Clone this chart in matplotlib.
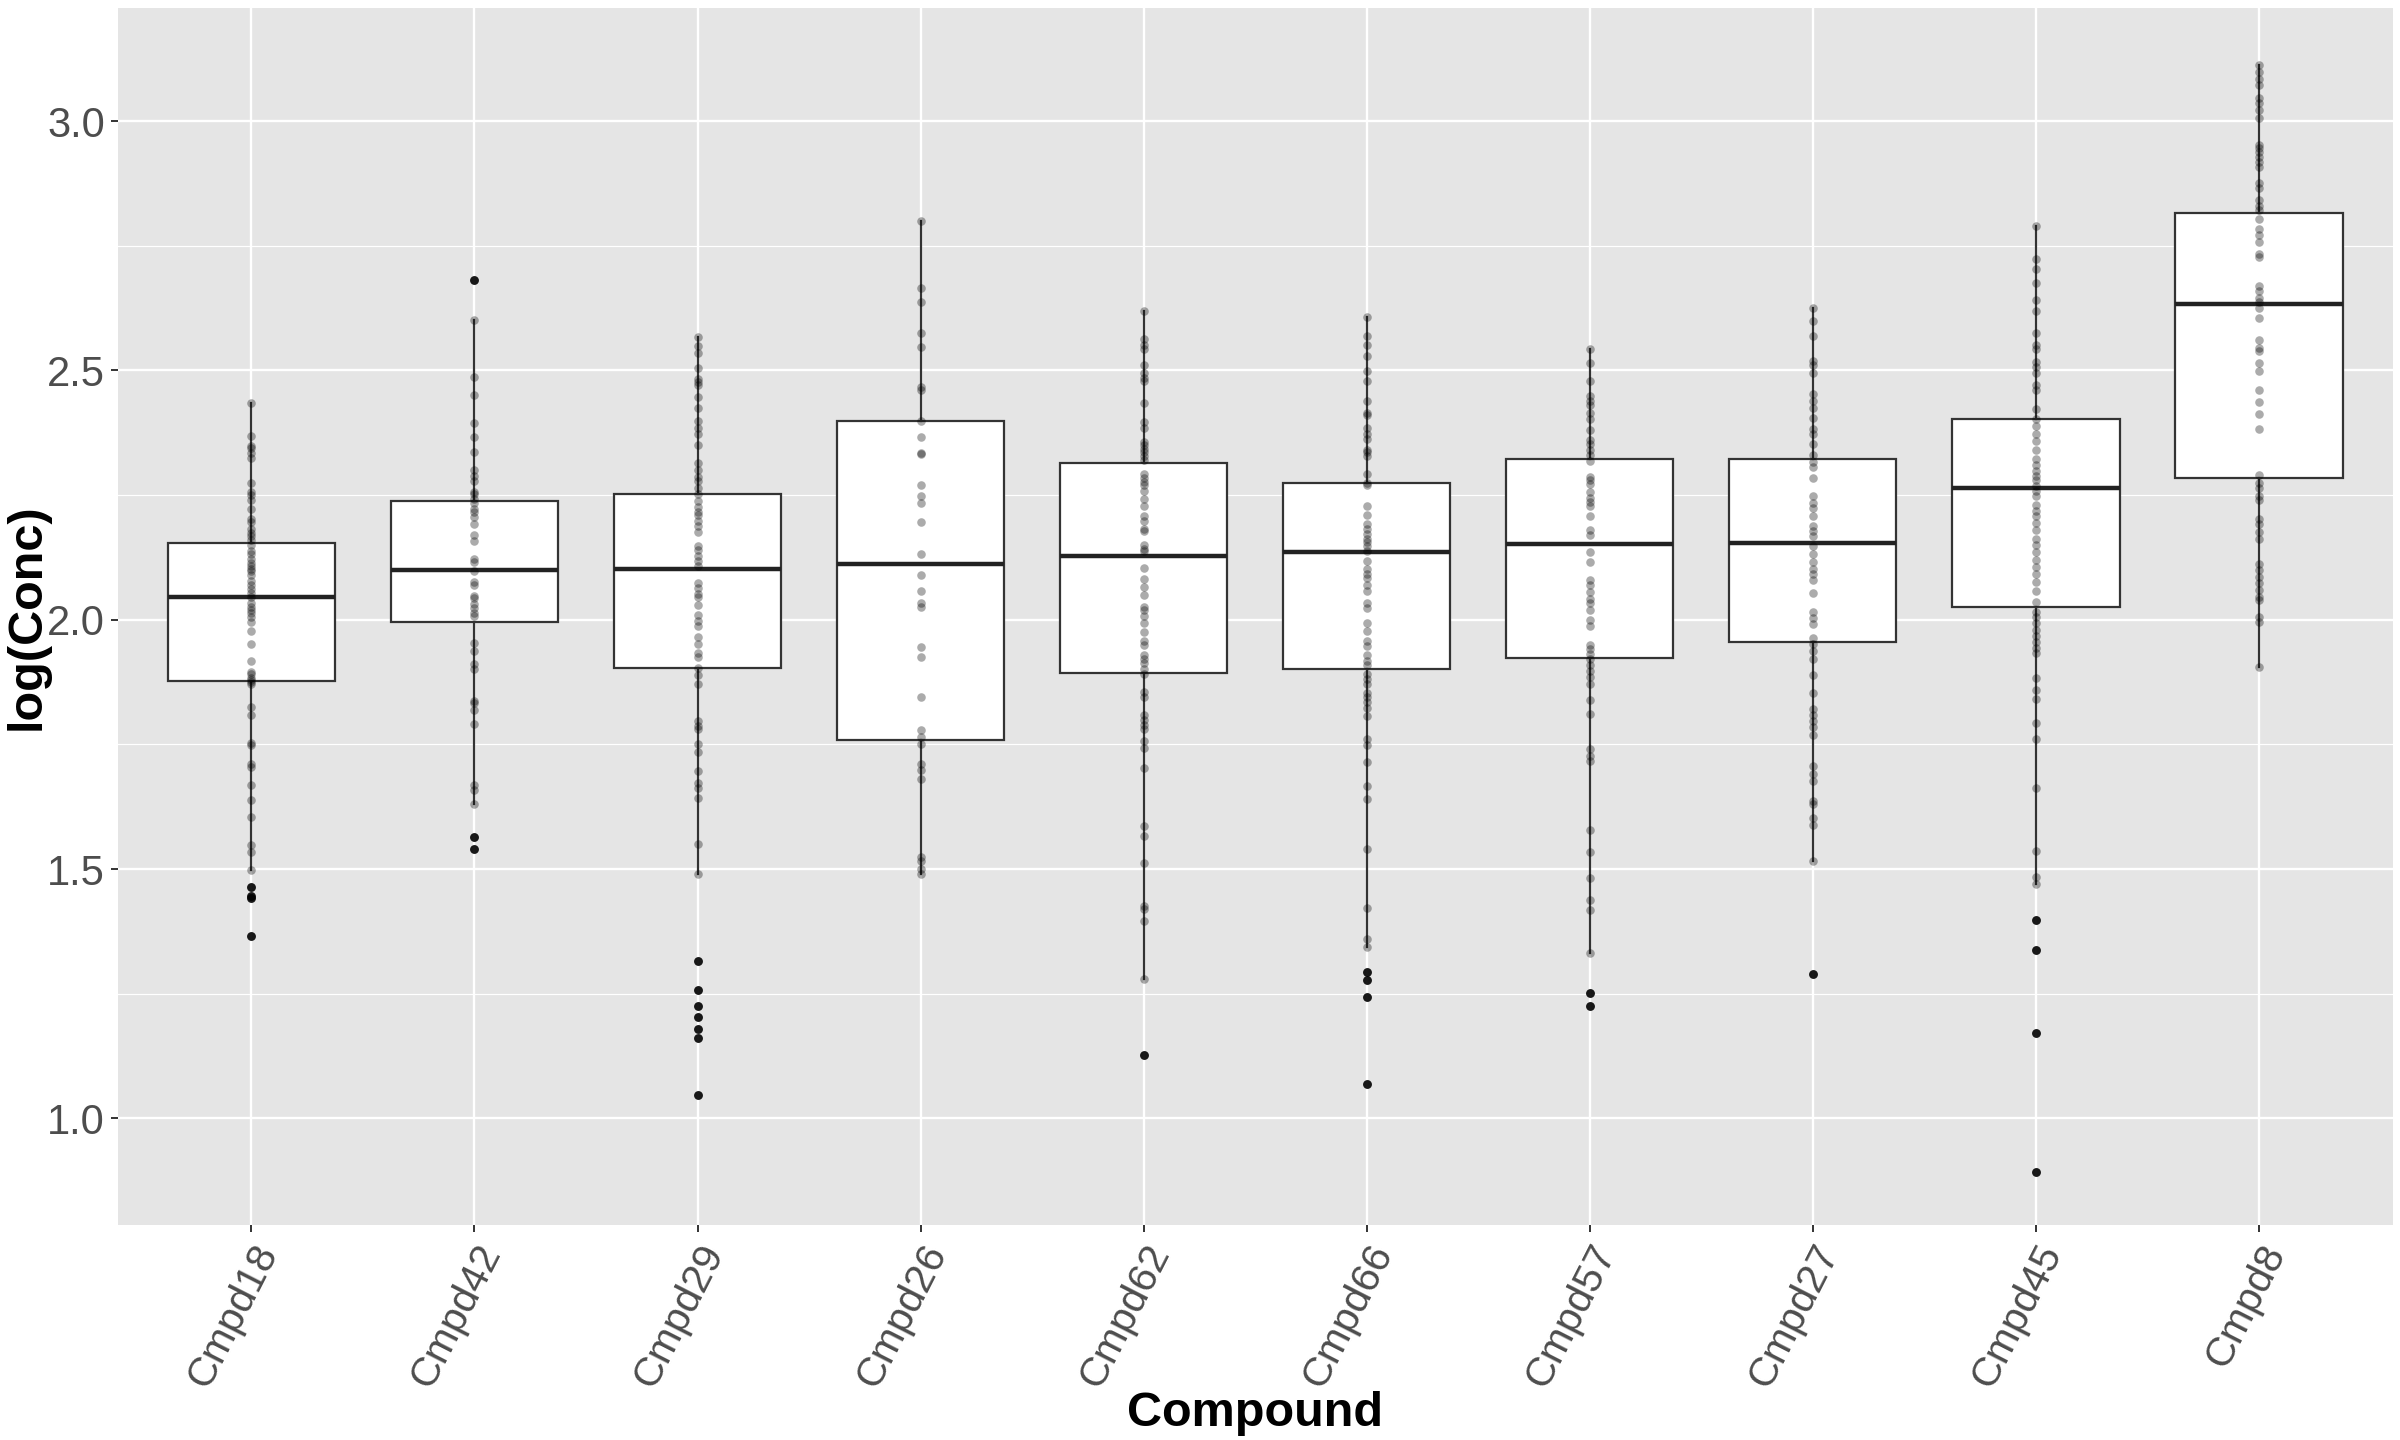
import numpy as np
import matplotlib.pyplot as plt
from matplotlib.ticker import MultipleLocator

plt.rcParams['font.family'] = ['Liberation Sans', 'DejaVu Sans']

compounds = ['Cmpd18', 'Cmpd42', 'Cmpd29', 'Cmpd26', 'Cmpd62',
             'Cmpd66', 'Cmpd57', 'Cmpd27', 'Cmpd45', 'Cmpd8']

# box statistics
q1 = [1.878, 1.995, 1.904, 1.759, 1.894, 1.901, 1.924, 1.956, 2.025, 2.284]
med = [2.045, 2.099, 2.102, 2.111, 2.128, 2.136, 2.152, 2.153, 2.264, 2.634]
q3 = [2.153, 2.238, 2.253, 2.398, 2.314, 2.274, 2.322, 2.322, 2.402, 2.816]
whislo = [1.497, 1.631, 1.490, 1.489, 1.279, 1.343, 1.332, 1.517, 1.470, 1.905]
whishi = [2.435, 2.601, 2.568, 2.800, 2.620, 2.608, 2.543, 2.625, 2.789, 3.112]

outliers = [
    [1.463, 1.441, 1.445, 1.366],
    [2.681, 1.564, 1.541],
    [1.316, 1.257, 1.226, 1.204, 1.179, 1.160, 1.047],
    [],
    [1.127],
    [1.293, 1.277, 1.244, 1.068],
    [1.252, 1.226],
    [1.290],
    [1.398, 1.338, 1.171, 0.892],
    [],
]

# individual measurements (drawn semi-transparent on top)
pts_cmpd18 = [2.435, 2.369, 2.349, 2.345, 2.335, 2.325, 2.275, 2.256, 2.251, 2.241,
              2.222, 2.202, 2.197, 2.183, 2.173, 2.167, 2.159, 2.149, 2.138, 2.131,
              2.122, 2.113, 2.108, 2.102, 2.097, 2.090, 2.077, 2.070, 2.062, 2.054,
              2.046, 2.034, 2.026, 2.019, 2.013, 2.005, 1.996, 1.977, 1.952, 1.918,
              1.896, 1.891, 1.884, 1.880, 1.875, 1.871, 1.824, 1.808, 1.752, 1.748,
              1.710, 1.705, 1.669, 1.638, 1.604, 1.548, 1.535, 1.497]
pts_cmpd42 = [2.601, 2.487, 2.451, 2.395, 2.367, 2.337, 2.301, 2.288, 2.278, 2.256,
              2.252, 2.243, 2.234, 2.222, 2.216, 2.206, 2.192, 2.170, 2.158, 2.122,
              2.115, 2.098, 2.075, 2.070, 2.048, 2.043, 2.032, 2.023, 2.014, 2.007,
              1.953, 1.937, 1.911, 1.902, 1.837, 1.833, 1.819, 1.790, 1.669, 1.658,
              1.631]
pts_cmpd29 = [2.568, 2.550, 2.535, 2.505, 2.482, 2.476, 2.471, 2.446, 2.424, 2.398,
              2.384, 2.373, 2.351, 2.315, 2.300, 2.286, 2.278, 2.264, 2.253, 2.239,
              2.226, 2.217, 2.210, 2.199, 2.188, 2.177, 2.148, 2.139, 2.128, 2.117,
              2.107, 2.074, 2.063, 2.052, 2.046, 2.030, 2.009, 1.998, 1.987, 1.965,
              1.952, 1.933, 1.926, 1.904, 1.889, 1.871, 1.797, 1.786, 1.780, 1.750,
              1.734, 1.697, 1.672, 1.663, 1.643, 1.551, 1.490]
pts_cmpd26 = [2.800, 2.665, 2.637, 2.576, 2.547, 2.467, 2.460, 2.398, 2.367, 2.335,
              2.332, 2.270, 2.248, 2.234, 2.196, 2.132, 2.089, 2.057, 2.033, 2.025,
              1.946, 1.926, 1.846, 1.778, 1.764, 1.750, 1.710, 1.699, 1.680, 1.525,
              1.517, 1.501, 1.489]
pts_cmpd62 = [2.620, 2.564, 2.551, 2.543, 2.512, 2.495, 2.485, 2.479, 2.434, 2.397,
              2.384, 2.356, 2.350, 2.343, 2.336, 2.329, 2.321, 2.292, 2.285, 2.277,
              2.270, 2.259, 2.243, 2.229, 2.208, 2.198, 2.183, 2.178, 2.149, 2.142,
              2.137, 2.103, 2.082, 2.065, 2.050, 2.026, 2.019, 2.007, 1.993, 1.975,
              1.958, 1.950, 1.929, 1.922, 1.913, 1.901, 1.891, 1.855, 1.845, 1.809,
              1.799, 1.789, 1.781, 1.756, 1.742, 1.702, 1.587, 1.566, 1.512, 1.425,
              1.420, 1.396, 1.279]
pts_cmpd66 = [2.608, 2.569, 2.552, 2.530, 2.498, 2.479, 2.438, 2.415, 2.411, 2.384,
              2.372, 2.362, 2.341, 2.336, 2.329, 2.292, 2.275, 2.270, 2.229, 2.210,
              2.193, 2.183, 2.172, 2.162, 2.155, 2.147, 2.137, 2.118, 2.101, 2.091,
              2.083, 2.070, 2.058, 2.034, 2.024, 1.993, 1.977, 1.958, 1.947, 1.929,
              1.917, 1.909, 1.891, 1.881, 1.871, 1.854, 1.845, 1.835, 1.823, 1.806,
              1.760, 1.748, 1.714, 1.666, 1.641, 1.540, 1.422, 1.359, 1.343]
pts_cmpd57 = [2.543, 2.515, 2.479, 2.449, 2.439, 2.430, 2.415, 2.403, 2.380, 2.360,
              2.352, 2.341, 2.331, 2.319, 2.287, 2.280, 2.272, 2.257, 2.244, 2.237,
              2.229, 2.208, 2.180, 2.170, 2.135, 2.116, 2.080, 2.070, 2.055, 2.042,
              2.034, 2.019, 1.999, 1.988, 1.950, 1.942, 1.932, 1.922, 1.909, 1.898,
              1.886, 1.871, 1.840, 1.811, 1.740, 1.727, 1.717, 1.578, 1.535, 1.482,
              1.438, 1.418, 1.332]
pts_cmpd27 = [2.625, 2.600, 2.569, 2.520, 2.510, 2.495, 2.452, 2.439, 2.425, 2.405,
              2.382, 2.372, 2.352, 2.331, 2.316, 2.306, 2.285, 2.249, 2.234, 2.224,
              2.208, 2.188, 2.178, 2.167, 2.147, 2.132, 2.116, 2.101, 2.091, 2.080,
              2.053, 2.016, 2.004, 1.991, 1.963, 1.952, 1.937, 1.922, 1.889, 1.854,
              1.821, 1.809, 1.797, 1.784, 1.768, 1.707, 1.691, 1.676, 1.637, 1.630,
              1.602, 1.589, 1.517]
pts_cmpd45 = [2.789, 2.724, 2.704, 2.676, 2.642, 2.619, 2.575, 2.552, 2.543, 2.517,
              2.506, 2.494, 2.471, 2.460, 2.423, 2.402, 2.388, 2.373, 2.358, 2.340,
              2.322, 2.310, 2.299, 2.289, 2.280, 2.269, 2.258, 2.248, 2.230, 2.218,
              2.209, 2.195, 2.181, 2.161, 2.149, 2.135, 2.120, 2.105, 2.091, 2.075,
              2.057, 2.036, 2.016, 2.006, 1.994, 1.979, 1.967, 1.956, 1.944, 1.933,
              1.884, 1.859, 1.841, 1.792, 1.760, 1.662, 1.537, 1.484, 1.470]
pts_cmpd8 = [3.112, 3.099, 3.085, 3.073, 3.047, 3.036, 3.022, 3.007, 2.953, 2.946,
             2.939, 2.928, 2.918, 2.909, 2.876, 2.867, 2.841, 2.830, 2.821, 2.803,
             2.783, 2.772, 2.758, 2.734, 2.727, 2.670, 2.660, 2.646, 2.637, 2.625,
             2.606, 2.561, 2.545, 2.539, 2.516, 2.498, 2.461, 2.437, 2.413, 2.382,
             2.290, 2.274, 2.265, 2.249, 2.240, 2.203, 2.192, 2.177, 2.162, 2.111,
             2.099, 2.086, 2.073, 2.059, 2.046, 2.039, 2.005, 1.995, 1.905]

points = [pts_cmpd18, pts_cmpd42, pts_cmpd29, pts_cmpd26, pts_cmpd62,
          pts_cmpd66, pts_cmpd57, pts_cmpd27, pts_cmpd45, pts_cmpd8]

fig = plt.figure(figsize=(24, 14.4), dpi=100)
ax = fig.add_axes([0.049, 0.149, 0.948, 0.8454])

positions = np.arange(1, len(compounds) + 1)
stats = []
for i, name in enumerate(compounds):
    stats.append(dict(label=name, q1=q1[i], med=med[i], q3=q3[i],
                      whislo=whislo[i], whishi=whishi[i], fliers=outliers[i]))

ax.bxp(stats, positions=positions, widths=0.75, showcaps=False,
       patch_artist=True,
       boxprops=dict(facecolor='white', edgecolor='#333333', linewidth=1.6),
       medianprops=dict(color='#222222', linewidth=3.2, solid_capstyle='butt'),
       whiskerprops=dict(color='#333333', linewidth=1.6),
       flierprops=dict(marker='o', markerfacecolor='black', markeredgecolor='none',
                       markersize=6.4, alpha=0.9))

for i, vals in enumerate(points):
    ax.scatter(np.full(len(vals), positions[i]), vals, s=38, color='black',
               alpha=0.33, linewidths=0, zorder=4)

ax.set_xlim(0.4, len(compounds) + 0.6)
ax.set_ylim(0.785, 3.227)
ax.yaxis.set_major_locator(MultipleLocator(0.5))
ax.yaxis.set_minor_locator(MultipleLocator(0.25))
ax.set_xticks(positions)
ax.set_xticklabels(compounds)

ax.set_facecolor('#E5E5E5')
ax.set_axisbelow(True)
ax.grid(which='major', color='white', linewidth=1.7)
ax.grid(which='minor', axis='y', color='white', linewidth=0.85)
for sp in ax.spines.values():
    sp.set_visible(False)

ax.tick_params(axis='both', which='major', length=5, width=1.4, color='#333333',
               labelcolor='#4D4D4D', pad=4)
ax.tick_params(axis='y', labelsize=30)
ax.tick_params(axis='x', labelsize=29.5)
ax.tick_params(which='minor', length=0)
for lbl in ax.get_xticklabels():
    lbl.set_rotation(63)
    lbl.set_ha('right')
    lbl.set_va('top')
    lbl.set_rotation_mode('anchor')

ax.set_xlabel('Compound', fontsize=35, fontweight='bold', color='black')
ax.set_ylabel('log(Conc)', fontsize=35, fontweight='bold', color='black')
ax.xaxis.set_label_coords(0.5, -0.136)
ax.yaxis.set_label_coords(-0.030, 0.5)

fig.savefig('out.png', dpi=100)
